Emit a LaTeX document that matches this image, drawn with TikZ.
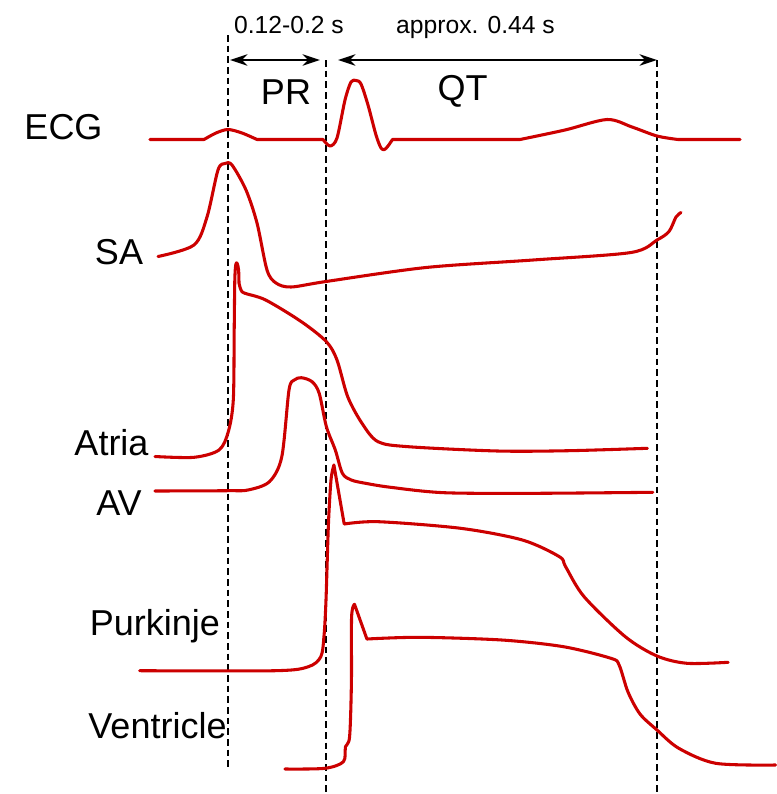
\documentclass[tikz,border=0pt]{standalone}
\usepackage{fontspec}
\setmainfont{Liberation Sans}
\usetikzlibrary{arrows.meta}
\definecolor{TraceRed}{HTML}{CC0000}
\definecolor{MarkBlack}{HTML}{000000}
\tikzset{
  ap trace/.style={
    draw=TraceRed,
    line width=2.3pt,
    line join=round,
    line cap=round
  },
  timing mark/.style={
    draw=MarkBlack,
    line width=1.5pt,
    dash pattern=on 5pt off 3pt
  },
  span arrow/.style={
    {Stealth[length=13pt,width=8.5pt,inset=4pt]}-{Stealth[length=13pt,width=8.5pt,inset=4pt]},
    draw=MarkBlack,
    line width=1.5pt
  },
  lead label/.style={
    anchor=base,
    inner sep=0pt,
    text=MarkBlack,
    font=\fontsize{27}{30}\selectfont
  },
  span label/.style={
    anchor=base,
    inner sep=0pt,
    text=MarkBlack,
    font=\fontsize{18.5}{21}\selectfont
  }
}

\begin{document}
\begin{tikzpicture}[x=0.75pt,y=-0.75pt]
  \useasboundingbox (0,0) rectangle (777,794);

  \node[lead label] (ecg) at (63.5,139) {ECG};
  \node[lead label] (sa) at (119,264) {SA};
  \node[lead label] (atria) at (111.5,455) {Atria};
  \node[lead label] (av) at (119,515) {AV};
  \node[lead label] (purkinje) at (155,635) {Purkinje};
  \node[lead label] (ventricle) at (157.5,738) {Ventricle};

  \node[lead label] (pr) at (286,104) {PR};
  \node[lead label] (qt) at (462.5,100) {QT};
  \node[span label] (pr time) at (289,33) {0.12-0.2 s};
  \node[span label] (qt time) at (475.5,33) {approx. 0.44 s};

  \coordinate (p mark top) at (228,35);
  \coordinate (p mark end) at (228,770);
  \coordinate (q mark top) at (326,60);
  \coordinate (q mark end) at (326,794);
  \coordinate (t mark top) at (657,60);
  \coordinate (t mark end) at (657,794);
  \draw[timing mark] (p mark top) -- (p mark end);
  \draw[timing mark] (q mark top) -- (q mark end);
  \draw[timing mark] (t mark top) -- (t mark end);

  \coordinate (pr left) at (230,60);
  \coordinate (pr right) at (320,60);
  \coordinate (qt left) at (338,60);
  \coordinate (qt right) at (657,60);
  \draw[span arrow] (pr left) -- (pr right);
  \draw[span arrow] (qt left) -- (qt right);

  \draw[ap trace] (150,139.5) -- (204,139.5)
    -- plot[smooth] coordinates {(204,139.5) (216,133) (228,129.5) (242,133) (257,139.5)}
    -- (323,139.5)
    -- plot[smooth] coordinates {(323,139.5) (330,146) (337,138) (345,100) (351,82) (356,80.5)
       (361,84) (368,105) (376,135) (381,148) (384.5,149.5) (388,146) (392.5,139.5)}
    -- (520,139.5)
    -- plot[smooth] coordinates {(520,139.5) (565,130) (607,119.5) (632,127) (657,136) (678,139.5)}
    -- (740,139.5);

  \draw[ap trace] plot[smooth] coordinates {(158,256.5) (194,245) (207,217) (218,170) (225,163.5)
    (232,165) (246,190) (257,223) (267,270) (276,283) (291,287) (326,281.5) (426,267.5)
    (533,260) (631,252.5) (657,240) (669,231.5) (676,217) (681,212.5)};

  \draw[ap trace] plot[smooth] coordinates {(155,456.5) (194,457.3) (219,450) (228.3,431.7)
    (233.3,400) (234.2,330) (234.8,280) (235.8,264.5) (237.2,263.5) (238.6,270) (239,283)}
    -- plot[smooth] coordinates {(239,283) (241,290) (245,293.3) (265.7,300) (301.4,321.7)
    (326.4,341.7) (337,360) (347.7,396.7) (362,423.3) (378,441.7) (408.4,446.7) (497.6,451)
    (568.9,450.7) (647.4,448.3)};

  \draw[ap trace] plot[smooth] coordinates {(155,491) (228,490.7) (248,490) (269.4,481.7)
    (281.8,456.7) (289,390) (294.3,380) (301.4,377.7) (312.1,381.7) (319.2,393.3) (326.4,426.7)
    (335.3,450) (342.4,473.3) (351.3,480) (365.6,483.3) (390.6,487.3) (444.1,492.7)
    (533.3,493.3) (652.8,492.3)};

  \draw[ap trace] plot[smooth] coordinates {(139.7,670.7) (275.5,670.7) (308.4,666.7)
    (320.8,656.7) (324,636) (326,600) (328.4,525) (331,480) (333.9,465)}
    -- (344.2,524)
    -- plot[smooth] coordinates {(344.2,524) (378.4,521.7) (460.7,528.3) (522.4,540)
    (559.4,556.7) (565.6,566.7) (584.1,596.7) (625.3,636.7) (657,656) (687,663.3) (728.2,662.3)};

  \draw[ap trace] plot[smooth] coordinates {(285,769) (324.9,768.3) (343.4,761.7) (345.5,746.7)
    (349.6,736.7) (351.4,683.3) (351.6,616.7) (354.5,604.3)}
    -- (366.9,639)
    -- plot[smooth] coordinates {(366.9,639) (419.5,637.3) (501.8,640) (563.5,646.7)
    (610.9,658.3) (619.1,665) (628,692) (640,714) (657,730) (678.8,748.3) (715.8,763.3) (775.5,765)};
\end{tikzpicture}
\end{document}
